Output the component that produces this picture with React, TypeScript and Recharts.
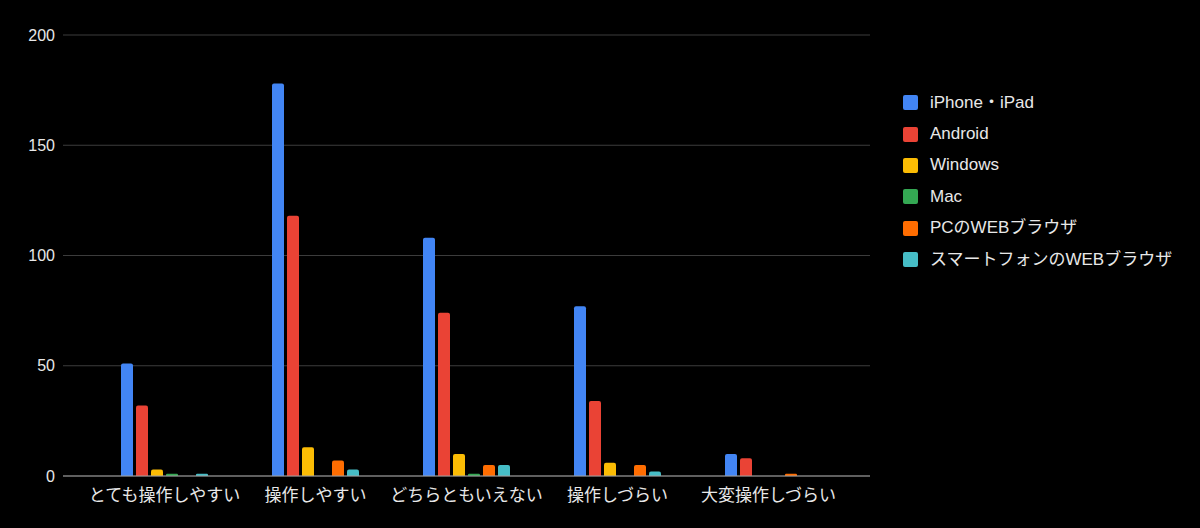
import { BarChart, Bar, XAxis, YAxis, CartesianGrid } from 'recharts';

const categories = ['とても操作しやすい', '操作しやすい', 'どちらともいえない', '操作しづらい', '大変操作しづらい'];
const iphone = [51, 178, 108, 77, 10];
const android = [32, 118, 74, 34, 8];
const windows = [3, 13, 10, 6, 0];
const mac = [1, 0, 1, 0, 0];
const pcWeb = [0, 7, 5, 5, 1];
const spWeb = [1, 3, 5, 2, 0];
const yTicks = [0, 50, 100, 150, 200];

const series = [
    { key: 'iphone', name: 'iPhone・iPad', color: '#4285f4', values: iphone },
    { key: 'android', name: 'Android', color: '#ea4335', values: android },
    { key: 'windows', name: 'Windows', color: '#fbbc04', values: windows },
    { key: 'mac', name: 'Mac', color: '#34a853', values: mac },
    { key: 'pcWeb', name: 'PCのWEBブラウザ', color: '#ff6d01', values: pcWeb },
    { key: 'spWeb', name: 'スマートフォンのWEBブラウザ', color: '#46bdc6', values: spWeb },
];

const data = categories.map((name, i) => {
    const row: Record<string, string | number> = { name };
    series.forEach((s) => {
        row[s.key] = s.values[i];
    });
    return row;
});

const font = '"Liberation Sans", "Noto Sans CJK JP", sans-serif';

function LegendList() {
    return (
        <div style={{ position: 'absolute', left: 903, top: 87, fontFamily: font }}>
            {series.map((s) => (
                <div
                    key={s.key}
                    style={{ display: 'flex', alignItems: 'center', height: 31.4, overflow: 'hidden' }}
                >
                    <span
                        style={{
                            width: 15,
                            height: 15,
                            borderRadius: 2,
                            background: s.color,
                            marginRight: 12,
                            display: 'inline-block',
                            flexShrink: 0,
                        }}
                    />
                    <span style={{ color: '#e8e8e8', fontSize: 17, lineHeight: '20px', whiteSpace: 'nowrap' }}>
                        {s.name}
                    </span>
                </div>
            ))}
        </div>
    );
}

export default function App() {
    return (
        <div style={{ position: 'fixed', left: 0, top: 0, width: 1200, height: 528, background: '#000' }}>
            <BarChart
                width={1200}
                height={528}
                data={data}
                margin={{ top: 35, right: 330, left: 0, bottom: 0 }}
                barGap={3}
                barCategoryGap="20%"
            >
                <CartesianGrid stroke="#3c3c3c" vertical={false} />
                <XAxis
                    dataKey="name"
                    height={52}
                    padding={{ left: 26, right: 26 }}
                    axisLine={{ stroke: '#a0a0a0' }}
                    tickLine={false}
                    tick={{ fill: '#e8e8e8', fontSize: 17, fontFamily: font }}
                    tickMargin={7}
                    interval={0}
                />
                <YAxis
                    width={63}
                    domain={[0, 200]}
                    ticks={yTicks}
                    axisLine={false}
                    tickLine={false}
                    tick={{ fill: '#e8e8e8', fontSize: 16, fontFamily: font }}
                />
                {series.map((s) => (
                    <Bar
                        key={s.key}
                        dataKey={s.key}
                        name={s.name}
                        fill={s.color}
                        barSize={12}
                        radius={[2, 2, 0, 0]}
                        isAnimationActive={false}
                    />
                ))}
            </BarChart>
            <LegendList />
        </div>
    );
}
